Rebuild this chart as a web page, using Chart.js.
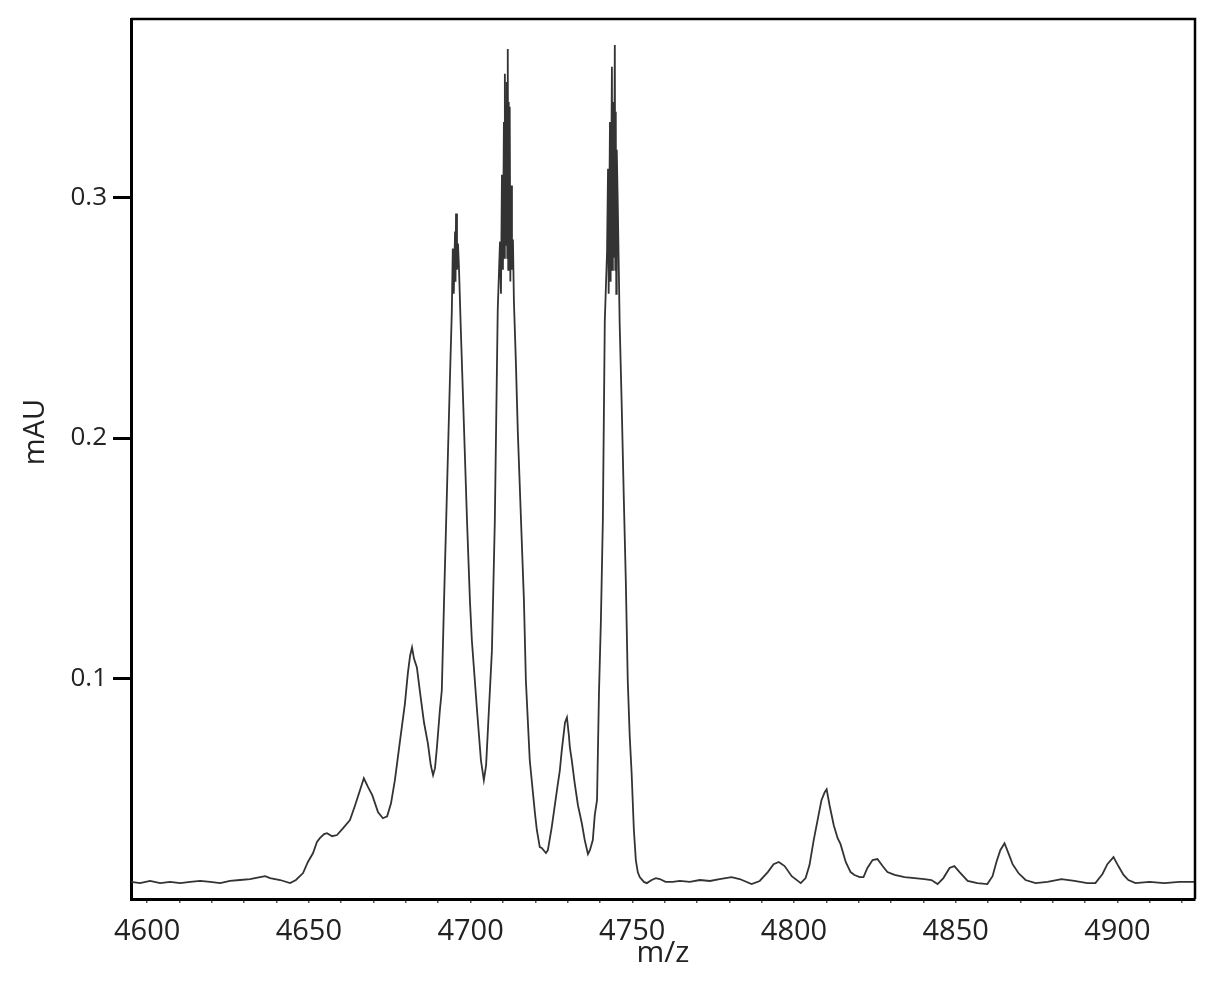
<!DOCTYPE html>
<html lang="en">
<head>
  <meta charset="UTF-8" />
  <title>Mass spectrum m/z</title>
  <script src="https://cdn.jsdelivr.net/npm/chart.js"></script>
  <style>
    * { margin: 0; padding: 0; box-sizing: border-box; }
    body { background: #fff; width: 1214px; height: 989px; overflow: hidden; }
    #wrap { width: 1214px; height: 989px; }
  </style>
</head>
<body>
  <div id="wrap"><canvas id="spectrum" width="1214" height="989"></canvas></div>

  <script>
    // values (m/z vs mAU)
    const mz = [
      4595.1, 4597.8, 4600.9, 4604.0, 4607.1, 4610.2, 4613.3, 4616.4, 4619.5, 4622.6,
      4625.6, 4628.7, 4631.8, 4634.9, 4636.5, 4638.0, 4641.1, 4644.2, 4646.0, 4648.2,
      4649.7, 4651.3, 4652.5, 4653.4, 4654.7, 4655.6, 4657.2, 4658.7, 4660.6, 4662.7,
      4664.3, 4665.8, 4667.0, 4668.3, 4669.6, 4671.4, 4672.9, 4674.2, 4675.4, 4676.6,
      4678.2, 4679.7, 4680.6, 4681.3, 4681.9, 4682.5, 4683.4, 4684.3, 4685.6, 4686.8,
      4687.7, 4688.4, 4689.0, 4689.6, 4690.5, 4691.1, 4691.8, 4692.7, 4693.6, 4694.2,
      4694.5, 4694.8, 4695.2, 4695.35, 4695.5, 4695.8, 4696.1, 4696.4, 4697.0, 4697.9,
      4698.9, 4699.8, 4700.4, 4702.0, 4703.2, 4704.1, 4704.8, 4705.4, 4706.6, 4707.5,
      4708.4, 4709.1, 4709.4, 4709.7, 4710.0, 4710.3, 4710.45, 4710.6, 4710.8, 4711.0,
      4711.2, 4711.35, 4711.5, 4711.65, 4711.8, 4711.95, 4712.1, 4712.3, 4712.5, 4712.8,
      4713.1, 4713.4, 4714.0, 4714.6, 4715.6, 4716.5, 4717.1, 4717.7, 4718.3, 4719.0,
      4719.9, 4720.5, 4721.4, 4722.0, 4723.3, 4723.9, 4725.1, 4726.7, 4727.6, 4728.2,
      4729.2, 4729.8, 4730.4, 4730.7, 4731.3, 4732.2, 4733.2, 4734.4, 4735.3, 4736.3,
      4736.9, 4737.8, 4738.4, 4739.1, 4739.7, 4740.3, 4740.9, 4741.5, 4742.2, 4742.5,
      4742.7, 4743.1, 4743.3, 4743.7, 4743.85, 4744.0, 4744.3, 4744.6, 4744.75, 4744.9,
      4745.05, 4745.2, 4745.5, 4746.1, 4746.7, 4747.4, 4748.0, 4748.6, 4749.2, 4749.8,
      4750.5, 4751.1, 4751.7, 4752.3, 4753.6, 4754.5, 4756.0, 4757.3, 4758.5, 4760.3,
      4762.5, 4764.7, 4767.8, 4770.9, 4774.0, 4777.0, 4780.7, 4783.2, 4786.9, 4789.4,
      4791.9, 4793.7, 4795.3, 4797.1, 4799.3, 4802.1, 4803.6, 4804.8, 4806.1, 4807.3,
      4808.5, 4809.5, 4810.1, 4811.0, 4812.3, 4813.5, 4814.4, 4816.0, 4817.5, 4818.7,
      4820.3, 4821.5, 4822.7, 4824.3, 4825.8, 4827.4, 4828.9, 4831.1, 4834.2, 4837.3,
      4840.3, 4842.5, 4844.4, 4846.2, 4848.1, 4849.6, 4851.2, 4853.7, 4856.7, 4859.8,
      4861.4, 4862.6, 4863.8, 4865.1, 4866.3, 4867.6, 4869.4, 4871.6, 4874.7, 4878.4,
      4882.7, 4886.7, 4890.7, 4893.2, 4895.4, 4896.9, 4898.8, 4900.3, 4901.9, 4903.4,
      4905.6, 4909.9, 4914.5, 4919.2, 4924.0
    ];
    const mAU = [
      0.0154, 0.0149, 0.0158, 0.0149, 0.0154, 0.0149, 0.0154, 0.0158, 0.0154, 0.0149,
      0.0158, 0.0162, 0.0166, 0.0174, 0.0178, 0.0170, 0.0162, 0.0149, 0.0162, 0.0191,
      0.0237, 0.0274, 0.0320, 0.0336, 0.0353, 0.0357, 0.0344, 0.0349, 0.0378, 0.0411,
      0.0473, 0.0535, 0.0585, 0.0548, 0.0515, 0.0444, 0.0419, 0.0427, 0.0481, 0.0577,
      0.0743, 0.0896, 0.1021, 0.1095, 0.1129, 0.1083, 0.1046, 0.0950, 0.0817, 0.0730,
      0.0639, 0.0598, 0.0627, 0.0714, 0.0867, 0.0950, 0.1324, 0.1780, 0.2237, 0.2527,
      0.2788, 0.2600, 0.2859, 0.2650, 0.2934, 0.2700, 0.2809, 0.2714, 0.2444, 0.2071,
      0.1656, 0.1324, 0.1158, 0.0867, 0.0660, 0.0577, 0.0639, 0.0797, 0.1116, 0.1656,
      0.2535, 0.2817, 0.2600, 0.3095, 0.2700, 0.3315, 0.2750, 0.3515, 0.2800, 0.3300,
      0.3481, 0.2750, 0.3618, 0.2700, 0.3398, 0.2800, 0.3378, 0.2651, 0.3050, 0.2700,
      0.2826, 0.2568, 0.2320, 0.2029, 0.1656, 0.1324, 0.0992, 0.0826, 0.0660, 0.0564,
      0.0440, 0.0369, 0.0299, 0.0295, 0.0274, 0.0286, 0.0382, 0.0535, 0.0618, 0.0701,
      0.0817, 0.0838, 0.0763, 0.0714, 0.0660, 0.0564, 0.0473, 0.0398, 0.0328, 0.0270,
      0.0286, 0.0328, 0.0432, 0.0494, 0.0938, 0.1241, 0.1656, 0.2485, 0.2776, 0.3120,
      0.2600, 0.3315, 0.2650, 0.3544, 0.2700, 0.3398, 0.2750, 0.3635, 0.2700, 0.3357,
      0.2600, 0.3199, 0.2983, 0.2477, 0.2154, 0.1739, 0.1407, 0.0992, 0.0763, 0.0606,
      0.0369, 0.0245, 0.0195, 0.0174, 0.0154, 0.0149, 0.0162, 0.0170, 0.0166, 0.0154,
      0.0154, 0.0158, 0.0154, 0.0162, 0.0158, 0.0166, 0.0174, 0.0166, 0.0145, 0.0158,
      0.0195, 0.0228, 0.0237, 0.0220, 0.0178, 0.0149, 0.0170, 0.0224, 0.0328, 0.0411,
      0.0494, 0.0527, 0.0539, 0.0473, 0.0390, 0.0336, 0.0311, 0.0237, 0.0195, 0.0183,
      0.0174, 0.0174, 0.0212, 0.0245, 0.0249, 0.0220, 0.0195, 0.0183, 0.0174, 0.0170,
      0.0166, 0.0162, 0.0145, 0.0170, 0.0212, 0.0220, 0.0195, 0.0158, 0.0149, 0.0145,
      0.0178, 0.0237, 0.0286, 0.0315, 0.0274, 0.0228, 0.0191, 0.0162, 0.0149, 0.0154,
      0.0166, 0.0158, 0.0149, 0.0149, 0.0187, 0.0228, 0.0257, 0.0220, 0.0183, 0.0162,
      0.0149, 0.0154, 0.0149, 0.0154, 0.0154
    ];
    const xLabelEvery = 50;
    const yTickStep = 0.1;
    const yTitle = 'mAU';
    const xTitle = 'm/z';

    const points = mz.map((x, i) => ({ x: x, y: mAU[i] }));

    const fontFamily = "'Open Sans', 'Noto Sans', sans-serif";

    // top/right frame edges + y title placed level with the 0.2 tick
    const framePlugin = {
      id: 'frame',
      afterDraw(chart) {
        const { ctx, chartArea: a } = chart;
        ctx.save();
        ctx.strokeStyle = '#000';
        ctx.lineWidth = 2.5;
        ctx.beginPath();
        ctx.moveTo(a.left, a.top);
        ctx.lineTo(a.right, a.top);
        ctx.lineTo(a.right, a.bottom);
        ctx.stroke();

        const yMid = chart.scales.y.getPixelForValue(0.2) - 6;
        ctx.translate(36, yMid);
        ctx.rotate(-Math.PI / 2);
        ctx.fillStyle = '#222';
        ctx.font = '29px ' + fontFamily;
        ctx.textAlign = 'center';
        ctx.textBaseline = 'middle';
        ctx.fillText(yTitle, 0, 0);
        ctx.restore();
      }
    };

    new Chart(document.getElementById('spectrum').getContext('2d'), {
      type: 'line',
      data: {
        datasets: [{
          data: points,
          borderColor: '#333',
          borderWidth: 1.8,
          pointRadius: 0,
          tension: 0,
          fill: false
        }]
      },
      options: {
        responsive: false,
        animation: false,
        layout: { padding: { top: 17, right: 19, left: 0, bottom: 0 } },
        plugins: { legend: { display: false }, tooltip: { enabled: false } },
        scales: {
          x: {
            type: 'linear',
            min: 4595,
            max: 4924,
            afterFit(scale) { scale.height = 90; },
            border: { color: '#000', width: 3 },
            grid: { drawOnChartArea: false, color: '#555', lineWidth: 1.5, tickLength: 4 },
            ticks: {
              stepSize: 10,
              includeBounds: false,
              autoSkip: false,
              maxRotation: 0,
              padding: 11,
              color: '#222',
              font: { family: fontFamily, size: 29 },
              callback: v => (Math.round(v) % xLabelEvery === 0 ? String(Math.round(v)) : '')
            },
            title: {
              display: true,
              text: xTitle,
              color: '#222',
              font: { family: fontFamily, size: 30 },
              padding: { top: 0, bottom: 18 }
            }
          },
          y: {
            min: 0.0083,
            max: 0.3743,
            afterFit(scale) { scale.width = 131; },
            border: { color: '#000', width: 3 },
            grid: { drawOnChartArea: false, color: '#000', lineWidth: 3, tickLength: 18 },
            ticks: {
              stepSize: yTickStep,
              includeBounds: false,
              padding: 6,
              color: '#222',
              font: { family: fontFamily, size: 26, lineHeight: 1 },
              callback: v => v.toFixed(1)
            }
          }
        }
      },
      plugins: [framePlugin]
    });
  </script>
</body>
</html>
